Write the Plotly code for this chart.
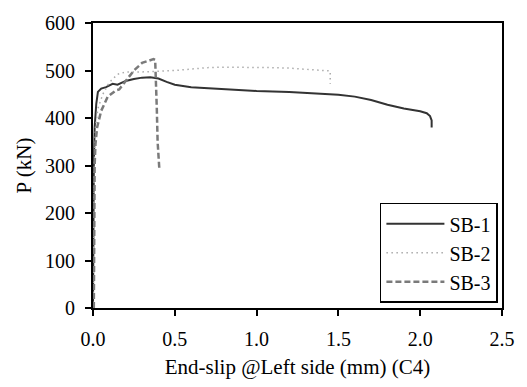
import plotly.graph_objects as go

# SB-1
sb1_x = [0, 0.002, 0.005, 0.01, 0.02, 0.03, 0.05, 0.08, 0.12, 0.15, 0.2, 0.25, 0.3, 0.35, 0.4, 0.45,
         0.5, 0.6, 0.7, 0.8, 1.0, 1.2, 1.4, 1.5, 1.6, 1.7, 1.8, 1.9, 2.0, 2.04, 2.06, 2.07, 2.07]
sb1_y = [0, 150, 300, 380, 430, 455, 462, 465, 472, 470, 478, 482, 485, 486, 483, 476,
         470, 465, 463, 461, 457, 455, 452, 449, 445, 438, 428, 420, 414, 410, 404, 395, 380]

# SB-2
sb2_x = [0, 0.003, 0.008, 0.015, 0.03, 0.06, 0.1, 0.15, 0.2, 0.3, 0.4, 0.5, 0.6, 0.7, 0.8,
         0.9, 1.0, 1.1, 1.2, 1.3, 1.4, 1.45, 1.45]
sb2_y = [0, 150, 300, 380, 420, 450, 475, 492, 497, 497, 498, 500, 503, 506, 507,
         507, 506, 506, 505, 503, 501, 499, 472]

# SB-3
sb3_x = [0.005, 0.007, 0.01, 0.015, 0.025, 0.05, 0.09, 0.14, 0.16, 0.2, 0.25, 0.3, 0.35, 0.37,
         0.38, 0.385, 0.39, 0.395, 0.4, 0.405]
sb3_y = [0, 150, 300, 345, 380, 415, 445, 458, 460, 478, 500, 516, 522, 524,
         522, 480, 420, 350, 310, 295]

x_ticks = [0.0, 0.5, 1.0, 1.5, 2.0, 2.5]
y_ticks = [0, 100, 200, 300, 400, 500, 600]

FONT = "Liberation Serif"
font = dict(family=FONT, size=20, color="black")
tfont = dict(family=FONT, size=21, color="black")

fig = go.Figure()
fig.add_trace(go.Scatter(x=sb1_x, y=sb1_y, mode="lines", name="SB-1",
                         line=dict(color="#333333", width=2)))
fig.add_trace(go.Scatter(x=sb2_x, y=sb2_y, mode="lines", name="SB-2",
                         line=dict(color="#aaaaaa", width=1.5, dash="1.5px,3.5px")))
fig.add_trace(go.Scatter(x=sb3_x, y=sb3_y, mode="lines", name="SB-3",
                         line=dict(color="#7a7a7a", width=2.5, dash="6px,3px")))

fig.update_layout(
    width=527, height=387,
    margin=dict(l=93, r=19, t=12, b=76),
    paper_bgcolor="white", plot_bgcolor="white",
    font=font,
    showlegend=True,
    legend=dict(x=0.99, y=0.018, xanchor="right", yanchor="bottom",
                bordercolor="black", borderwidth=1.5, bgcolor="white",
                font=font, tracegroupgap=0, itemwidth=58),
)
fig.update_xaxes(range=[0, 2.5], tickvals=x_ticks, ticktext=[f"{v:.1f}" for v in x_ticks],
                 tickfont=font, ticklabelstandoff=6,
                 showline=True, linecolor="black", linewidth=2, mirror=True,
                 ticks="outside", ticklen=6, tickwidth=2, tickcolor="black",
                 showgrid=False, zeroline=False,
                 title=dict(text="End-slip @Left side (mm) (C4)", standoff=10, font=tfont))
fig.update_yaxes(range=[0, 600], tickvals=y_ticks, tickfont=font, ticklabelstandoff=6,
                 showline=True, linecolor="black", linewidth=2, mirror=True,
                 ticks="outside", ticklen=6, tickwidth=2, tickcolor="black",
                 showgrid=False, zeroline=False,
                 title=dict(text="P (kN)", standoff=8, font=tfont))

fig.write_html("out.html")
